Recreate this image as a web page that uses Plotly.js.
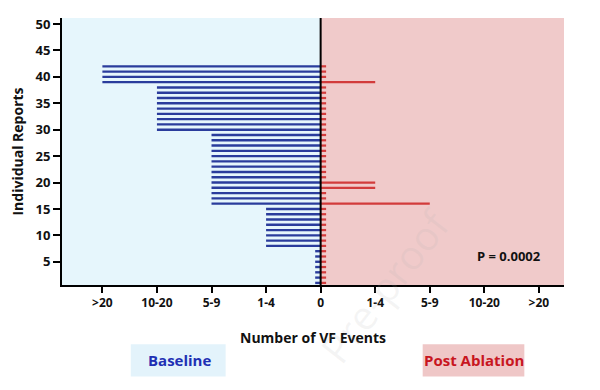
<!DOCTYPE html>
<html>
<head>
<meta charset="utf-8">
<script src="https://cdn.plot.ly/plotly-3.0.1.min.js"></script>
<style>html,body{margin:0;padding:0;background:#fff;}#chart{width:600px;height:390px;}</style>
</head>
<body>
<div id="chart"></div>
<script>
// Category labels for VF event counts (index = position from the centre line)
const eventCategories = ['0', '1-4', '5-9', '10-20', '>20'];

// Individual reports (rows)
const reports = [1,2,3,4,5,6,7,8,9,10,11,12,13,14,15,16,17,18,19,20,21,
                 22,23,24,25,26,27,28,29,30,31,32,33,34,35,36,37,38,39,40,41,42];

// Baseline category per report
const baselineEvents = ['0','0','0','0','0','0','0',
  '1-4','1-4','1-4','1-4','1-4','1-4','1-4','1-4',
  '5-9','5-9','5-9','5-9','5-9','5-9','5-9','5-9','5-9','5-9','5-9','5-9','5-9','5-9',
  '10-20','10-20','10-20','10-20','10-20','10-20','10-20','10-20','10-20',
  '>20','>20','>20','>20'];

// Post-ablation category per report
const postEvents = ['0','0','0','0','0','0','0','0','0','0','0','0','0','0','0',
  '5-9','0','0','1-4','1-4','0','0','0','0','0','0','0','0','0',
  '0','0','0','0','0','0','0','0','0',
  '1-4','0','0','0'];

// Axis tick labels
const xTickVals = [-4,-3,-2,-1,0,1,2,3,4];
const xTickText = ['>20','10-20','5-9','1-4','0','1-4','5-9','10-20','>20'];
const yTickVals = [5,10,15,20,25,30,35,40,45,50];
const pValueText = 'P = 0.0002';

const ZERO_STUB = 0.1; // visual length for "0" rows
function toPos(cat, sign) {
  const i = eventCategories.indexOf(cat);
  return sign * (i === 0 ? ZERO_STUB : i);
}

const XMIN = -4.74, XMAX = 4.46;
const font = 'Open Sans, Noto Sans, Liberation Sans, sans-serif';

const traces = [
  {
    type: 'bar', orientation: 'h',
    y: reports, x: baselineEvents.map(c => toPos(c, -1)),
    width: 0.45,
    marker: {color: '#2a3c9c', line: {width: 0}},
    hoverinfo: 'skip', showlegend: false
  },
  {
    type: 'bar', orientation: 'h',
    y: reports, x: postEvents.map(c => toPos(c, 1)),
    width: 0.42,
    marker: {color: '#d23b3b', line: {width: 0}},
    hoverinfo: 'skip', showlegend: false
  }
];

const layout = {
  width: 600, height: 390,
  margin: {l: 62, r: 36, t: 18, b: 105},
  paper_bgcolor: '#ffffff',
  plot_bgcolor: 'rgba(0,0,0,0)',
  barmode: 'overlay',
  showlegend: false,
  font: {family: font, color: '#111'},
  xaxis: {
    range: [XMIN, XMAX],
    tickvals: xTickVals, ticktext: xTickText,
    ticks: 'outside', ticklen: 6, tickwidth: 2, tickcolor: '#000',
    showline: true, linecolor: '#000', linewidth: 2,
    showgrid: false, zeroline: false,
    tickfont: {family: font, size: 12, weight: 700, color: '#111'},
    title: {text: 'Number of VF Events', font: {family: font, size: 14, weight: 700, color: '#111'}, standoff: 23},
    fixedrange: true
  },
  yaxis: {
    range: [0.6, 51.15],
    tickvals: yTickVals,
    ticks: 'outside', ticklen: 7, tickwidth: 2, tickcolor: '#000',
    showline: true, linecolor: '#000', linewidth: 2,
    showgrid: false, zeroline: false,
    tickfont: {family: font, size: 13, weight: 700, color: '#111'},
    title: {text: 'Individual Reports', font: {family: font, size: 14, weight: 700, color: '#111'}, standoff: 9},
    fixedrange: true
  },
  shapes: [
    {type: 'rect', xref: 'x', yref: 'paper', x0: XMIN, x1: 0, y0: 0, y1: 1,
     fillcolor: '#e6f6fc', line: {width: 0}, layer: 'below'},
    {type: 'rect', xref: 'x', yref: 'paper', x0: 0, x1: XMAX, y0: 0, y1: 1,
     fillcolor: '#f0caca', line: {width: 0}, layer: 'below'},
    {type: 'line', xref: 'x', yref: 'paper', x0: 0, x1: 0, y0: 0, y1: 1,
     line: {color: '#000', width: 2}, layer: 'above'},
    {type: 'rect', xref: 'paper', yref: 'paper', x0: 0.137, x1: 0.326, y0: -0.222, y1: -0.343,
     fillcolor: '#e3f3fb', line: {width: 0}},
    {type: 'rect', xref: 'paper', yref: 'paper', x0: 0.7185, x1: 0.921, y0: -0.222, y1: -0.343,
     fillcolor: '#efc7c7', line: {width: 0}}
  ],
  annotations: [
    {text: pValueText, xref: 'paper', yref: 'paper', x: 0.891, y: 0.1086,
     xanchor: 'center', yanchor: 'middle',
     showarrow: false, font: {family: font, size: 13, weight: 700, color: '#111'}},
    {text: 'Baseline', xref: 'paper', yref: 'paper', x: 0.235, y: -0.2825,
     xanchor: 'center', yanchor: 'middle',
     showarrow: false, font: {family: font, size: 15, weight: 700, color: '#1f30b4'}},
    {text: 'Post Ablation', xref: 'paper', yref: 'paper', x: 0.8207, y: -0.2825,
     xanchor: 'center', yanchor: 'middle',
     showarrow: false, font: {family: font, size: 15, weight: 700, color: '#c8161f'}},
    {text: 'Pre-proof', xref: 'paper', yref: 'paper', x: 0.643, y: 0.0,
     xanchor: 'center', yanchor: 'middle',
     showarrow: false, textangle: -52,
     font: {family: font, size: 40, color: 'rgba(170,170,170,0.13)'}}
  ]
};

Plotly.newPlot('chart', traces, layout, {displayModeBar: false, staticPlot: true});
</script>
</body>
</html>
